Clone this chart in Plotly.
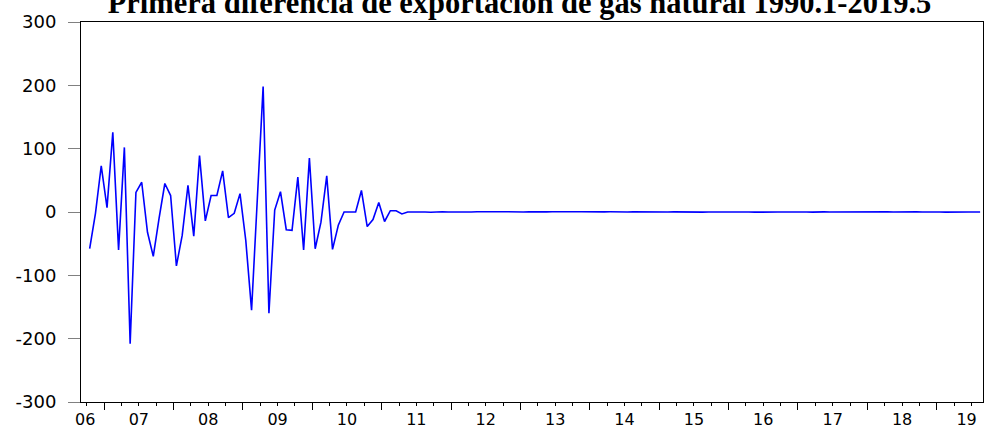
import plotly.graph_objects as go

# monthly first differences, Oct 2006 .. Aug 2019
start_year = 2006
start_month = 10

diff_values = [
    -58, -2, 73, 7, 126, -60, 102, -208, 31, 47,
    -32, -70, -10, 45, 26, -85, -37, 42, -38, 89,
    -14, 26, 26, 65, -9, -2, 29, -45, -155, 22,
    198, -160, 3, 32, -28, -29, 55, -60, 85, -58,
    -16, 57, -59, -21, 0, 0, 0, 34, -23, -12,
    15, -15, 2, 2, -3, 0, 0.3, 0.2, 0, -0.3,
    0.2, 0.4, 0, -0.2, 0.3, 0.1, 0, 0.5, 0.2, -0.1,
    0, 0.3, 0.4, 0, -0.2, 0.1, 0.3, 0, -0.3, 0.2,
    0.4, 0.1, 0, -0.2, 0.3, 0.5, 0.2, 0, -0.1, 0.2,
    0.3, 0, -0.2, 0.1, 0.4, 0.2, 0, -0.3, 0.1, 0.3,
    0, 0.2, -0.1, 0.4, 0.3, 0, -0.2, 0.1, 0.2, 0,
    0.3, -0.1, 0.2, 0.4, 0, -0.2, 0.1, 0.3, 0.2, 0,
    -0.1, 0.2, 0.4, 0, 0.1, -0.2, 0.3, 0.2, 0, 0.1,
    0.4, -0.1, 0, 0.2, 0.3, 0, -0.2, 0.1, 0.2, 0,
    0.3, 0.1, -0.1, 0.2, 0, 0.3, 0.1, 0, -0.2, 0.1,
    0.2, 0, 0.1, -0.1, 0,
]

year_labels = ["06", "07", "08", "09", "10", "11", "12", "13",
               "14", "15", "16", "17", "18", "19"]
y_ticks = [-300, -200, -100, 0, 100, 200, 300]
y_labels = ["-300", "-200", "-100", "0", "100", "200", "300"]

# decimal-year position of each month (centre of the month slot)
x_pos = []
for i in range(len(diff_values)):
    m = start_month - 1 + i
    x_pos.append(start_year + m // 12 + (m % 12) / 12 + 1 / 24)

x_min = 2006 + 8 / 12
x_max = 2019 + 8 / 12

year_edges = list(range(2007, 2020))
quarter_ticks = [y + q / 4 for y in range(2006, 2020) for q in (1, 2, 3)
                 if x_min <= y + q / 4 <= x_max]
label_pos = [2006.726] + [y + 0.5 for y in range(2007, 2019)] + [2019.43]

sans = "DejaVu Sans, Arial, sans-serif"

fig = go.Figure()

fig.add_trace(
    go.Scatter(
        x=x_pos,
        y=diff_values,
        mode="lines",
        line=dict(color="#0000FF", width=1.6),
        showlegend=False,
        hoverinfo="skip",
    )
)

# invisible trace on the label axis so it gets drawn
fig.add_trace(
    go.Scatter(x=[x_min, x_max], y=[0, 0], xaxis="x2", mode="lines",
               line=dict(width=0), showlegend=False, hoverinfo="skip")
)

fig.update_layout(
    width=984,
    height=430,
    margin=dict(l=81, r=1, t=22, b=28),
    plot_bgcolor="white",
    paper_bgcolor="white",
    title=dict(
        text="<b>Primera diferencia de exportación de gas natural 1990.1-2019.5</b>",
        font=dict(family="Liberation Serif, Times New Roman, serif", size=30.5, color="black"),
        x=0.528,
        xanchor="center",
        yref="container",
        y=0.995,
        yanchor="middle",
    ),
    xaxis=dict(
        range=[x_min, x_max],
        tickvals=year_edges,
        showticklabels=False,
        ticks="outside",
        ticklen=7,
        tickcolor="black",
        tickwidth=1,
        minor=dict(tickvals=quarter_ticks, ticks="outside", ticklen=3,
                   tickcolor="black", tickwidth=1),
        showgrid=False,
        zeroline=False,
        showline=True,
        linecolor="black",
        linewidth=1,
        mirror=True,
        automargin=False,
    ),
    xaxis2=dict(
        range=[x_min, x_max],
        overlaying="x",
        side="bottom",
        tickvals=label_pos,
        ticktext=year_labels,
        ticks="",
        showgrid=False,
        zeroline=False,
        showline=False,
        tickfont=dict(family=sans, size=16, color="black"),
        ticklabelstandoff=6,
        automargin=False,
    ),
    yaxis=dict(
        range=[-300, 300],
        tickvals=y_ticks,
        ticktext=y_labels,
        ticks="outside",
        ticklen=12,
        tickcolor="#808080",
        tickwidth=1,
        tickfont=dict(family=sans, size=18, color="black"),
        showgrid=False,
        zeroline=False,
        showline=True,
        linecolor="black",
        linewidth=1,
        mirror=True,
        ticklabelstandoff=8,
        automargin=False,
    ),
)

# the page body has a default 8px margin; drop it so the chart fills the window
fig.write_html(
    "out.html",
    config={"displayModeBar": False},
    post_script="document.body.style.margin='0';",
)
